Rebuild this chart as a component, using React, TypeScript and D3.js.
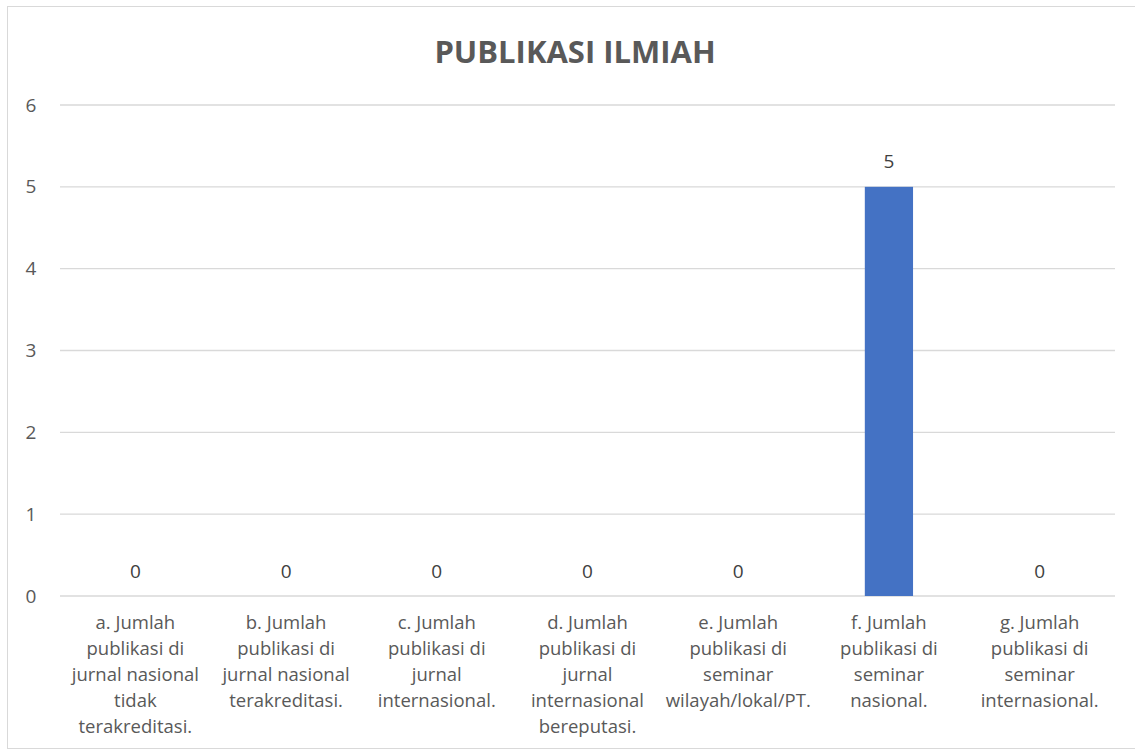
import * as d3 from 'd3'

const categories = ['a', 'b', 'c', 'd', 'e', 'f', 'g']
const categoryLines = [
  ['a. Jumlah', 'publikasi di', 'jurnal nasional', 'tidak', 'terakreditasi.'],
  ['b. Jumlah', 'publikasi di', 'jurnal nasional', 'terakreditasi.'],
  ['c. Jumlah', 'publikasi di', 'jurnal', 'internasional.'],
  ['d. Jumlah', 'publikasi di', 'jurnal', 'internasional', 'bereputasi.'],
  ['e. Jumlah', 'publikasi di', 'seminar', 'wilayah/lokal/PT.'],
  ['f. Jumlah', 'publikasi di', 'seminar', 'nasional.'],
  ['g. Jumlah', 'publikasi di', 'seminar', 'internasional.'],
]
const values = [0, 0, 0, 0, 0, 5, 0]
const yTicks = [0, 1, 2, 3, 4, 5, 6]

const W = 1135
const H = 751
const PLOT = { left: 60, right: 1115, top: 105, bottom: 596 }
const FONT = "'Open Sans', 'Noto Sans', sans-serif"
const TEXT = '#595959'

export default function App() {
  const x = d3.scaleBand<string>()
    .domain(categories)
    .range([PLOT.left, PLOT.right])
    .paddingInner(0.68)
    .paddingOuter(0.34)
  const y = d3.scaleLinear().domain([0, 6]).range([PLOT.bottom, PLOT.top])

  return (
    <div style={{ position: 'absolute', left: 0, top: 0 }}>
      <svg width={W} height={H} style={{ display: 'block', fontFamily: FONT }}>
        <rect x={0} y={0} width={W} height={H} fill="#fff" />
        <rect x={7.5} y={6.5} width={W + 20} height={742} fill="#fff" stroke="#d9d9d9" />

        <text x={575} y={63} textAnchor="middle" fill={TEXT} fontSize={31} fontWeight={700}>
          PUBLIKASI ILMIAH
        </text>

        {/* grid */}
        {yTicks.map(t => (
          <g key={t}>
            <line x1={PLOT.left} x2={PLOT.right} y1={y(t)} y2={y(t)} stroke="#d9d9d9" strokeWidth={1.3} />
            <text x={31} y={y(t)} dy="0.35em" textAnchor="middle" fill={TEXT} fontSize={19}>{t}</text>
          </g>
        ))}

        {/* bars */}
        {categories.map((c, i) => (
          <g key={c}>
            {values[i] > 0 && (
              <rect x={x(c)} y={y(values[i])} width={x.bandwidth()} height={y(0) - y(values[i])} fill="#4472c4" />
            )}
            <text x={(x(c) ?? 0) + x.bandwidth() / 2} y={y(values[i]) - 25} dy="0.35em" textAnchor="middle" fill="#404040" fontSize={19}>
              {values[i]}
            </text>
            <text textAnchor="middle" fill={TEXT} fontSize={18.5}>
              {categoryLines[i].map((ln, k) => (
                <tspan key={k} x={(x(c) ?? 0) + x.bandwidth() / 2} y={623 + k * 26} dy="0.35em">{ln}</tspan>
              ))}
            </text>
          </g>
        ))}
      </svg>
    </div>
  )
}
